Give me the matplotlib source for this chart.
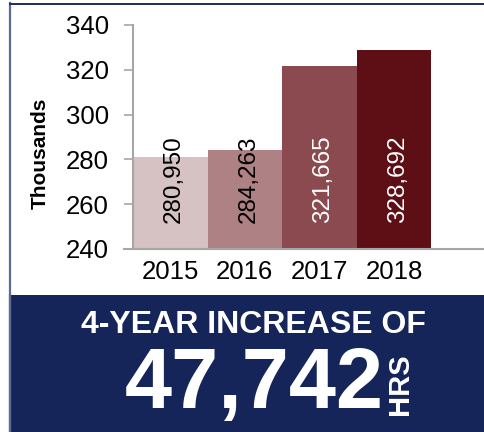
import matplotlib
matplotlib.use("Agg")
import matplotlib.pyplot as plt
from matplotlib.patches import Rectangle
from matplotlib.lines import Line2D

plt.rcParams["font.family"] = ["Liberation Sans", "DejaVu Sans"]

# data
years = ["2015", "2016", "2017", "2018"]
hours = [280950, 284263, 321665, 328692]
bar_colors = ["#D6C1C3", "#AE8285", "#8A4A50", "#5E0E15"]
label_colors = ["black", "black", "white", "white"]
y_ticks = [240, 260, 280, 300, 320, 340]
headline = "4-YEAR INCREASE OF"
increase = "47,742"
unit = "HRS"

W, H = 485, 432
fig = plt.figure(figsize=(W / 100, H / 100), dpi=100)

def fx(px):
    return px / W

def fy(py):
    return 1 - py / H

# outer frame
fig.add_artist(Line2D([fx(10.5), fx(10.5)], [fy(3), fy(432)], color="#5D6B92", lw=1.6))
fig.add_artist(Line2D([fx(10), fx(485)], [fy(3.5), fy(3.5)], color="#1F2D5C", lw=1.4))

# chart
ax = fig.add_axes([fx(133), fy(249), fx(485) - fx(133), fy(25) - fy(249)])
thousands = [v / 1000 for v in hours]
x = list(range(len(years)))
ax.bar(x, thousands, width=1.0, color=bar_colors, zorder=2)
for xi, v, c in zip(x, hours, label_colors):
    ax.text(xi + 0.05, 251.5, f"{v:,}", rotation=90, ha="center", va="bottom",
            fontsize=17.5, color=c, zorder=3)

ax.set_xlim(-0.5, 4.22)
ax.set_ylim(240, 340)
ax.set_yticks(y_ticks)
ax.set_xticks(x)
ax.set_xticklabels(years)
ax.tick_params(axis="y", direction="out", length=6.5, width=1.2, color="#A6A6A6",
               labelsize=18.5, pad=11)
ax.tick_params(axis="x", length=0, labelsize=18.5, pad=8)
for s in ["top", "right"]:
    ax.spines[s].set_visible(False)
for s in ["left", "bottom"]:
    ax.spines[s].set_color("#A6A6A6")
    ax.spines[s].set_linewidth(1.5)
ax.spines["bottom"].set_bounds(-0.5 - 9 / 74.5, 4.22)
ax.set_ylabel("Thousands", fontsize=15, fontweight="bold", va="center")
ax.yaxis.set_label_coords((40.5 - 133) / 352, (249 - 153) / 224)
ax.patch.set_visible(False)

# navy banner
fig.add_artist(Rectangle((fx(10), 0), fx(485) - fx(10), fy(295), transform=fig.transFigure,
                         facecolor="#152459", edgecolor="none", zorder=1))
fig.add_artist(Line2D([fx(10.5), fx(10.5)], [0, fy(295)], color="#5D6B92", lw=1.6, zorder=2))
fig.text(fx(253.5), fy(333), headline, ha="center", va="baseline", fontsize=23,
         fontweight="bold", color="white", zorder=3)
fig.text(fx(254), fy(408), increase, ha="center", va="baseline", fontsize=61,
         fontweight="bold", color="white", zorder=3)
fig.text(fx(408), fy(384.5), unit, ha="center", va="baseline", rotation=90,
         rotation_mode="anchor", fontsize=21, fontweight="bold", color="white", zorder=3)

fig.savefig("out.png", dpi=100, facecolor="white")
